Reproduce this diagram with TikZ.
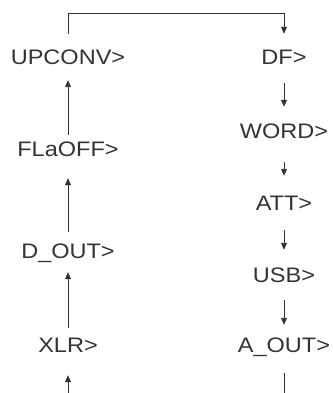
\documentclass[tikz,border=0pt]{standalone}
\usepackage{fontspec}
\setmainfont{Liberation Sans}[FakeStretch=1.12]
\usepackage{tikz}
\usetikzlibrary{arrows.meta}
\definecolor{inkgray}{HTML}{333333}

\begin{document}
\begin{tikzpicture}[x=1pt, y=-1pt]
    \tikzstyle{lbl}=[inner sep=0pt, text height=15pt, text depth=0pt,
                     text=inkgray, font=\fontsize{21}{24}\selectfont]
    \tikzstyle{arr}=[draw=inkgray, line width=0.9pt,
                     -{Triangle[length=7pt, width=6pt]}]
    \tikzstyle{wire}=[draw=inkgray, line width=0.9pt]

    \useasboundingbox (0,0) rectangle (332,393);

    \node[lbl] (upconv) at (68,57)  {UPCONV>};
    \node[lbl] (flaoff) at (68,149) {FLaOFF>};
    \node[lbl] (dout)   at (68,251) {D\_OUT>};
    \node[lbl] (xlr)    at (68,345) {XLR>};

    \node[lbl] (df)     at (284,57)  {DF>};
    \node[lbl] (word)   at (284,131) {WORD>};
    \node[lbl] (att)    at (284,203) {ATT>};
    \node[lbl] (usb)    at (284,275) {USB>};
    \node[lbl] (aout)   at (284,345) {A\_OUT>};

    \coordinate (xin)  at (68,393);
    \coordinate (aend) at (284,393);
    \coordinate (topl) at (68,13);
    \coordinate (topr) at (284,13);

    \draw[arr, shorten >=22.5pt] (xin) -- (xlr);
    \draw[arr, shorten <=9.5pt, shorten >=13.5pt] (xlr) -- (dout);
    \draw[arr, shorten <=11.5pt, shorten >=21.5pt] (dout) -- (flaoff);
    \draw[arr, shorten <=6.5pt, shorten >=15.5pt] (flaoff) -- (upconv);
    \draw[arr, shorten <=15.5pt, shorten >=15.5pt] (upconv) -- (topl) -- (topr) -- (df);

    \draw[arr, shorten <=18.5pt, shorten >=16.5pt] (df) -- (word);
    \draw[arr, shorten <=23.5pt, shorten >=19.5pt] (word) -- (att);
    \draw[arr, shorten <=19.5pt, shorten >=17.5pt] (att) -- (usb);
    \draw[arr, shorten <=17.5pt, shorten >=12.5pt] (usb) -- (aout);
    \draw[wire, shorten <=20.5pt] (aout) -- (aend);
  \end{tikzpicture}
\end{document}
